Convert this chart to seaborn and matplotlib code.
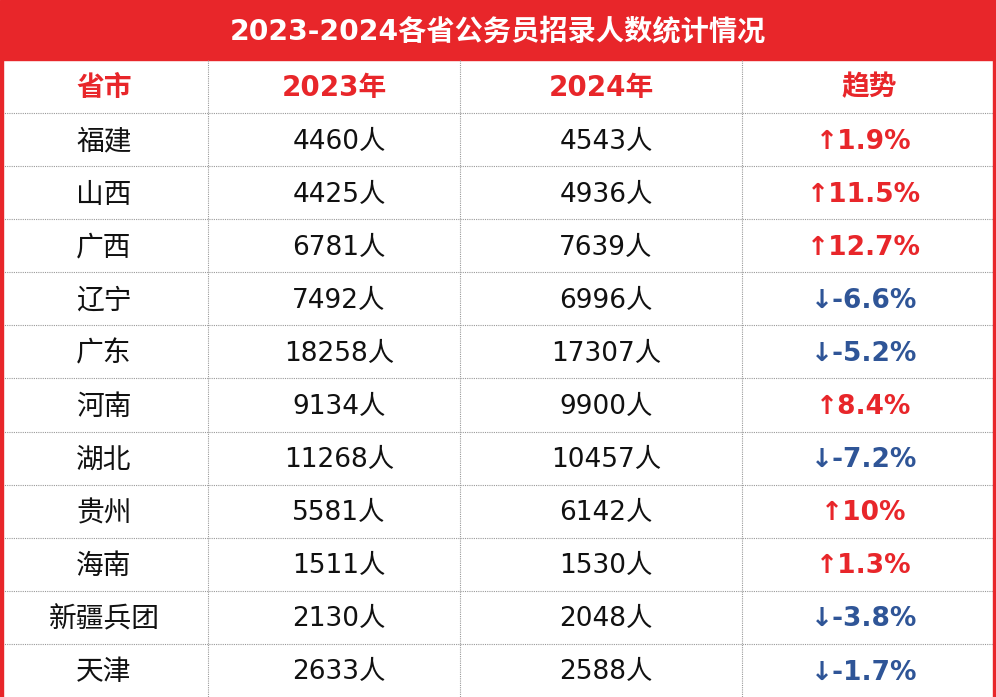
import matplotlib
matplotlib.use("Agg")
import matplotlib.pyplot as plt
import seaborn as sns
from matplotlib.patches import Rectangle

sns.set_theme(style="white")
plt.rcParams['font.family'] = ['Noto Sans CJK SC', 'DejaVu Sans']

title = "2023-2024各省公务员招录人数统计情况"
headers = ["省市", "2023年", "2024年", "趋势"]
provinces = ["福建", "山西", "广西", "辽宁", "广东", "河南", "湖北", "贵州", "海南", "新疆兵团", "天津"]
y2023 = [4460, 4425, 6781, 7492, 18258, 9134, 11268, 5581, 1511, 2130, 2633]
y2024 = [4543, 4936, 7639, 6996, 17307, 9900, 10457, 6142, 1530, 2048, 2588]
trend = ["1.9%", "11.5%", "12.7%", "-6.6%", "-5.2%", "8.4%", "-7.2%", "10%", "1.3%", "-3.8%", "-1.7%"]

RED = "#e8262a"
BLUE = "#2f5597"
W, H = 996, 697
fig = plt.figure(figsize=(W / 100, H / 100), dpi=100)
ax = fig.add_axes([0, 0, 1, 1])
ax.set_xlim(0, W)
ax.set_ylim(H, 0)
ax.axis("off")

top_bar = 60
header_top, header_bot = 60, 113
row_h = (H - header_bot) / len(provinces)
col_edges = [0, 208, 460, 742, W]
centers = [(col_edges[i] + col_edges[i + 1]) / 2 for i in range(4)]
centers[0] = 104

num_fam = ['DejaVu Sans', 'Noto Sans CJK SC']

ax.add_patch(Rectangle((0, 0), W, top_bar, color=RED, zorder=1))
ax.text(W / 2, top_bar / 2 + 1, title, color="white", fontsize=20.3, fontweight="bold",
        ha="center", va="center", zorder=3, family=num_fam)
ax.add_patch(Rectangle((0, top_bar), 3, H - top_bar, color=RED, zorder=3))
ax.add_patch(Rectangle((W - 3, top_bar), 3, H - top_bar, color=RED, zorder=3))

for x in col_edges[1:-1]:
    ax.plot([x, x], [top_bar, H], color="#999999", lw=0.8, ls=(0, (1, 1)), zorder=2)
ys = [header_bot + i * row_h for i in range(len(provinces))]
for y in ys:
    ax.plot([0, W], [y, y], color="#999999", lw=0.8, ls=(0, (1, 1)), zorder=2)

for c, h in zip(centers, headers):
    ax.text(c, (header_top + header_bot) / 2 + 1, h, color=RED, fontsize=20,
            fontweight="bold", ha="center", va="center", family=num_fam)

for i, p in enumerate(provinces):
    cy = header_bot + (i + 0.5) * row_h + 2
    ax.text(centers[0], cy, p, fontsize=20, ha="center", va="center", color="#111111")
    ax.text(centers[1] + 5, cy, f"{y2023[i]}人", fontsize=19, ha="center", va="center",
            color="#111111", family=num_fam)
    ax.text(centers[2] + 5, cy, f"{y2024[i]}人", fontsize=19, ha="center", va="center",
            color="#111111", family=num_fam)
    up = not trend[i].startswith("-")
    ax.text(centers[3] - 5, cy, ("↑" if up else "↓") + trend[i], fontsize=19, fontweight="bold",
            ha="center", va="center", color=RED if up else BLUE, family=num_fam)

fig.savefig("out.png", dpi=100)
